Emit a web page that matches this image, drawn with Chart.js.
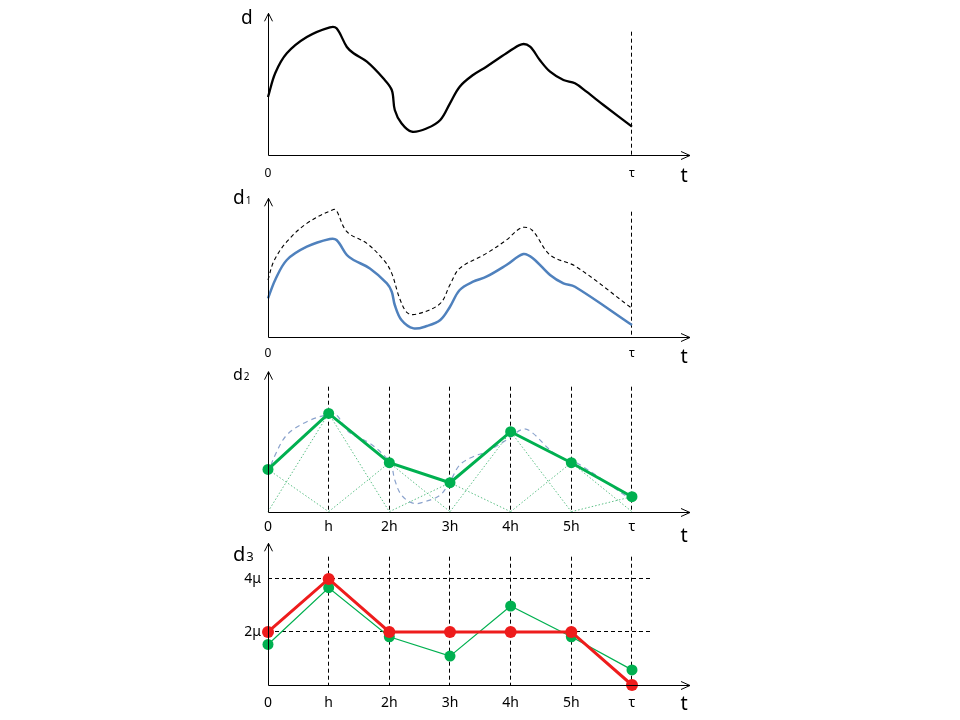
<!DOCTYPE html>
<html lang="en">
<head>
<meta charset="UTF-8">
<title>d(t) — sampling and quantisation</title>
<script src="https://cdn.jsdelivr.net/npm/chart.js@4.4.0/dist/chart.umd.min.js"></script>
<style>
body { margin: 0; background: #fff; }
.panel { position: absolute; left: 0; width: 960px; }
</style>
</head>
<body>
<div class="panel" style="top:0;height:190px"><canvas id="c1"></canvas></div>
<div class="panel" style="top:185px;height:185px"><canvas id="c2"></canvas></div>
<div class="panel" style="top:360px;height:185px"><canvas id="c3"></canvas></div>
<div class="panel" style="top:535px;height:185px"><canvas id="c4"></canvas></div>
<script>
// time in units of h (tau = 6h)
var stepTicks = [0, 1, 2, 3, 4, 5, 6];
var stepNames = ['0', 'h', '2h', '3h', '4h', '5h', 'τ'];
var endTicks = [0, 6];
var endNames = ['0', 'τ'];

// panel 1 : original signal d(t)
var t0 = [0, 0.12, 0.31, 0.64, 1.02, 1.13, 1.30, 1.41, 1.63, 1.90, 2.04, 2.09, 2.20, 2.37, 2.62, 2.84, 3.0, 3.16, 3.38, 3.60, 3.93, 4.18, 4.32, 4.48, 4.65, 4.87, 5.06, 5.25, 5.53, 6.0];
var dVals = [58, 82, 101.7, 118, 127.7, 126.7, 108, 101.7, 93.3, 76.7, 65, 45, 31.7, 23.3, 26.7, 35, 51.7, 68.3, 80, 88.3, 101.7, 110.7, 108.3, 95, 83.3, 75, 71.7, 63.3, 50, 28.3];

// panel 2 : filtered signal d1(t) and the original (dashed)
var t1 = [0, 0.12, 0.31, 0.64, 1.02, 1.13, 1.30, 1.41, 1.68, 1.96, 2.04, 2.09, 2.20, 2.40, 2.62, 2.84, 3.0, 3.16, 3.38, 3.60, 3.93, 4.21, 4.37, 4.65, 4.87, 5.06, 6.0];
var d1Vals = [38.3, 57, 76.7, 90, 97.7, 96.7, 81.7, 76.7, 68.3, 53.3, 45, 31.7, 16.7, 8.3, 10.7, 16.7, 30, 46.7, 55, 60, 71.7, 82.7, 78.3, 61.7, 53.3, 50, 11.7];
var tRef = [0, 0.1, 0.31, 0.64, 1.08, 1.13, 1.30, 1.63, 1.93, 2.04, 2.18, 2.31, 2.50, 2.84, 3.0, 3.16, 3.60, 3.93, 4.18, 4.35, 4.65, 5.08, 6.0];
var refVals = [56.7, 76, 95, 113.3, 127.3, 126, 105, 93.3, 75, 63.3, 36.7, 23.3, 23.3, 33.3, 52, 68.3, 83.3, 96.7, 109, 106.7, 81.7, 70, 28.3];

// panel 3 : samples d2(kh)
var d2Vals = [42.3, 98.3, 49, 29, 80, 49, 15];

// panel 4 : samples in units of mu and quantised d3
var d3Samples = [1.53, 3.67, 1.82, 1.09, 2.98, 1.82, 0.57];
var d3Vals = [2, 4, 2, 2, 2, 2, 0];
var muTicks = [2, 4];
var muNames = ['2μ', '4μ'];

var GREEN = '#00b050';
var RED = '#ee1c1c';
var FONT = '"Noto Sans", "Open Sans", sans-serif';

function pts(ts, vs) {
  return ts.map(function (t, i) { return { x: t, y: vs[i] }; });
}

var axesArrows = {
  id: 'axesArrows',
  afterDraw: function (chart, args, o) {
    var ctx = chart.ctx, a = chart.chartArea;
    var x0 = Math.round(a.left) + 0.5, y0 = Math.round(a.bottom) + 0.5;
    var tipY = a.top - o.rise, endX = a.right + 38;
    ctx.save();
    ctx.strokeStyle = '#000';
    ctx.lineWidth = 1;
    ctx.beginPath();
    ctx.moveTo(x0, tipY);
    ctx.lineTo(x0, y0);
    ctx.lineTo(endX, y0);
    ctx.moveTo(x0 - 4, tipY + 8);
    ctx.lineTo(x0, tipY);
    ctx.lineTo(x0 + 4, tipY + 8);
    ctx.moveTo(endX - 9, y0 - 4);
    ctx.lineTo(endX, y0);
    ctx.lineTo(endX - 9, y0 + 4);
    ctx.stroke();

    ctx.fillStyle = '#000';
    ctx.textBaseline = 'alphabetic';
    ctx.textAlign = 'left';
    ctx.font = o.dSize + 'px ' + FONT;
    ctx.fillText('d', o.dx, o.dy);
    if (o.sub) {
      var w = ctx.measureText('d').width;
      ctx.font = o.subSize + 'px ' + FONT;
      ctx.fillText(o.sub, o.dx + w + 1, o.dy);
    }
    ctx.textAlign = 'center';
    ctx.font = '20px ' + FONT;
    ctx.fillText('t', 684, o.ty);
    ctx.restore();
  }
};

function makePanel(id, p) {
  var xTicks = p.xTicks, xNames = p.xNames;
  var yTicks = p.yTicks || [];
  var yNames = p.yNames || [];
  new Chart(document.getElementById(id), {
    type: 'line',
    data: { datasets: p.datasets },
    options: {
      responsive: true,
      maintainAspectRatio: false,
      animation: false,
      layout: { padding: { left: 228, right: 308, top: p.padTop, bottom: 0 } },
      plugins: {
        legend: { display: false },
        tooltip: { enabled: false },
        axesArrows: p.arrows
      },
      scales: {
        x: {
          type: 'linear',
          min: 0,
          max: 6.33,
          afterBuildTicks: function (s) { s.ticks = xTicks.map(function (v) { return { value: v }; }); },
          afterFit: function (s) { s.height = p.axisH; },
          ticks: {
            padding: p.tickPad,
            color: '#000',
            font: { family: FONT, size: p.tickSize },
            callback: function (v, i) { return xNames[i]; }
          },
          grid: {
            drawTicks: false, lineWidth: 1,
            color: function (c) { return c.tick && c.tick.value === 0 ? 'rgba(0,0,0,0)' : '#000'; }
          },
          border: { display: false, dash: [4, 3] }
        },
        y: {
          min: 0,
          max: p.yMax,
          afterBuildTicks: function (s) { s.ticks = yTicks.map(function (v) { return { value: v }; }); },
          afterFit: function (s) { s.width = 40; },
          ticks: {
            display: yTicks.length > 0,
            padding: 7,
            color: '#000',
            font: { family: FONT, size: 14 },
            callback: function (v, i) { return yNames[i]; }
          },
          grid: { display: yTicks.length > 0, drawTicks: false, color: '#000', lineWidth: 1 },
          border: { display: false, dash: [4, 3] }
        }
      }
    },
    plugins: [axesArrows]
  });
}

// panel 1
makePanel('c1', {
  padTop: 31.7, axisH: 35, yMax: 123.3, tickPad: 11, tickSize: 12,
  xTicks: endTicks, xNames: endNames,
  arrows: { rise: 18.4, dx: 241, dy: 24, dSize: 19, ty: 182 },
  datasets: [{
    data: pts(t0, dVals), borderColor: '#000', borderWidth: 2.3,
    pointRadius: 0, tension: 0.35, clip: false
  }]
});

// panel 2
makePanel('c2', {
  padTop: 26.7, axisH: 33.3, yMax: 125, tickPad: 10, tickSize: 12,
  xTicks: endTicks, xNames: endNames,
  arrows: { rise: 13.4, dx: 233, dy: 204 - 185, dSize: 19, sub: '1', subSize: 10, ty: 178 },
  datasets: [{
    data: pts(t1, d1Vals), borderColor: '#4f81bd', borderWidth: 2.5,
    pointRadius: 0, tension: 0.35, clip: false
  }, {
    data: pts(tRef, refVals), borderColor: '#000', borderWidth: 1.1, borderDash: [4, 3],
    pointRadius: 0, tension: 0.35, clip: false
  }]
});

// panel 3 : samples, hat functions and the filtered curve
var hats = stepTicks.map(function (k, i) {
  var h = [];
  if (i > 0) h.push({ x: stepTicks[i - 1], y: 0 });
  h.push({ x: k, y: d2Vals[i] });
  if (i < stepTicks.length - 1) h.push({ x: stepTicks[i + 1], y: 0 });
  return {
    data: h, borderColor: '#5cbf86', borderWidth: 1, borderDash: [1.5, 2],
    pointRadius: 0, tension: 0, clip: false
  };
});
makePanel('c3', {
  padTop: 26.7, axisH: 33.3, yMax: 125, tickPad: 7, tickSize: 14,
  xTicks: stepTicks, xNames: stepNames,
  arrows: { rise: 15, dx: 233, dy: 20, dSize: 16, sub: '2', subSize: 10, ty: 182 },
  datasets: [{
    data: pts(stepTicks, d2Vals), borderColor: GREEN, borderWidth: 3,
    pointRadius: 5.5, pointBorderWidth: 0, pointBackgroundColor: GREEN, tension: 0, clip: false
  }].concat(hats).concat([{
    data: pts(t1, d1Vals), borderColor: '#8aa2cc', borderWidth: 1.2, borderDash: [5, 4],
    pointRadius: 0, tension: 0.35, clip: false
  }])
});

// panel 4 : quantised values
makePanel('c4', {
  padTop: 21.7, axisH: 35, yMax: 4.84, tickPad: 9.5, tickSize: 14,
  xTicks: stepTicks, xNames: stepNames,
  yTicks: muTicks, yNames: muNames,
  arrows: { rise: 13.4, dx: 233, dy: 26, dSize: 20, sub: '3', subSize: 13, ty: 175 },
  datasets: [{
    data: pts(stepTicks, d3Vals), borderColor: RED, borderWidth: 3,
    pointRadius: 6, pointBorderWidth: 0, pointBackgroundColor: RED, tension: 0, clip: false
  }, {
    data: pts(stepTicks, d3Samples), borderColor: GREEN, borderWidth: 1.2,
    pointRadius: 5.5, pointBorderWidth: 0, pointBackgroundColor: GREEN, tension: 0, clip: false
  }]
});
</script>
</body>
</html>
